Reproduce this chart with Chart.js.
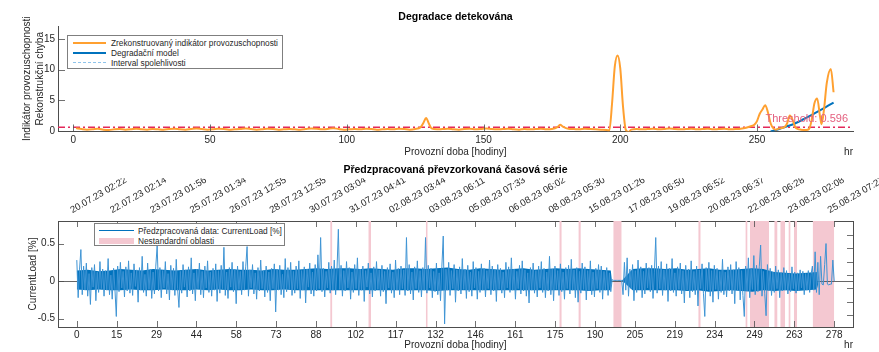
<!DOCTYPE html>
<html>
<head>
<meta charset="utf-8">
<script src="https://cdn.jsdelivr.net/npm/chart.js@4.4.1/dist/chart.umd.min.js"></script>
<style>
  body { margin: 0; width: 879px; height: 352px; background: #fff; position: relative; overflow: hidden;
         font-family: 'Liberation Sans', Arial, sans-serif; color: #262626; }
  .pane { position: absolute; left: 0; width: 879px; }
  .legend { position: absolute; background: #fff; border: 1px solid #7f7f7f; box-sizing: border-box; font-size: 8.3px; }
  .legend .row { position: absolute; left: 0; height: 10px; line-height: 10px; white-space: nowrap; }
  .legend .swatch { position: absolute; top: 4px; }
  .legend .text { position: absolute; left: 43px; top: 0; }
</style>
</head>
<body>
<div class="pane" style="top:0;height:160px"><canvas id="hiChart"></canvas></div>
<div class="pane" style="top:160px;height:192px"><canvas id="loadChart"></canvas></div>

<div class="legend" style="left:67px;top:35px;width:216px;height:34px">
  <div class="row" style="top:2px"><span class="swatch" style="left:5px;width:33px;border-top:2px solid #FFA030"></span><span class="text">Zrekonstruovaný indikátor provozuschopnosti</span></div>
  <div class="row" style="top:12px"><span class="swatch" style="left:5px;width:33px;border-top:2.5px solid #0072BD"></span><span class="text">Degradační model</span></div>
  <div class="row" style="top:21.5px"><span class="swatch" style="left:5px;width:33px;border-top:1px dashed #8EC3EA"></span><span class="text">Interval spolehlivosti</span></div>
</div>

<div class="legend" style="left:94px;top:223px;width:191px;height:23px">
  <div class="row" style="top:1.5px"><span class="swatch" style="left:4px;width:35px;border-top:1px solid #0072BD"></span><span class="text">Předzpracovaná data: CurrentLoad [%]</span></div>
  <div class="row" style="top:11.5px"><span class="swatch" style="left:4px;top:2px;width:35px;height:6px;background:#F4C8D1"></span><span class="text">Nestandardní oblasti</span></div>
</div>

<script>
// --- health indicator (top panel) ---
const hiHours = [
  1, 3, 5, 7, 9, 11, 13, 15, 17, 19,
  21, 23, 25, 27, 29, 31, 33, 35, 37, 39,
  41, 43, 45, 47, 49, 51, 53, 55, 57, 59,
  61, 63, 65, 67, 69, 71, 73, 75, 77, 79,
  81, 83, 85, 87, 89, 91, 93, 95, 97, 99,
  101, 103, 105, 107, 109, 111, 113, 115, 117, 119,
  121, 123, 125, 127, 128, 129, 130, 131, 133, 135,
  137, 139, 141, 143, 145, 147, 149, 151, 153, 155,
  157, 159, 161, 163, 165, 167, 169, 171, 173, 175,
  177, 178, 179, 181, 183, 185, 187, 189, 191, 193,
  195, 196, 197, 198, 199, 200, 201, 202, 203, 204,
  206, 208, 210, 212, 214, 216, 218, 220, 222, 224,
  226, 228, 230, 232, 234, 236, 238, 240, 242, 244,
  246, 248, 249, 250, 251, 252, 253, 254, 255, 256,
  257, 258, 260, 261, 262, 263, 264, 265, 266, 268,
  269, 270, 271, 272, 273, 273.6, 274.5, 275.5, 277, 278
];
const hiValues = [
  0.45, 0.3, 0.2, 0.25, 0.35, 0.2, 0.15, 0.25, 0.3, 0.2,
  0.25, 0.35, 0.25, 0.2, 0.3, 0.25, 0.2, 0.3, 0.35, 0.25,
  0.2, 0.3, 0.4, 0.3, 0.2, 0.25, 0.35, 0.3, 0.2, 0.25,
  0.3, 0.4, 0.3, 0.2, 0.25, 0.35, 0.3, 0.2, 0.25, 0.3,
  0.25, 0.2, 0.3, 0.4, 0.35, 0.25, 0.3, 0.45, 0.3, 0.2,
  0.25, 0.3, 0.25, 0.35, 0.3, 0.2, 0.25, 0.3, 0.25, 0.35,
  0.3, 0.2, 0.3, 0.6, 1.3, 2.1, 1.2, 0.4, 0.25, 0.3,
  0.35, 0.25, 0.2, 0.3, 0.35, 0.25, 0.3, 0.4, 0.3, 0.25,
  0.3, 0.35, 0.25, 0.2, 0.3, 0.25, 0.3, 0.35, 0.25, 0.3,
  0.6, 1.0, 0.7, 0.35, 0.3, 0.25, 0.35, 0.3, 0.25, 0.2,
  0.15, 0.05, 4.5, 10.5, 12.3, 10.2, 4.0, 0.2, -0.2, 0.2,
  0.3, 0.25, 0.3, 0.35, 0.25, 0.3, 0.4, 0.3, 0.25, 0.3,
  0.35, 0.25, 0.3, 0.35, 0.25, 0.3, 0.35, 0.25, 0.3, 0.35,
  0.5, 0.8, 1.0, 1.6, 2.8, 3.5, 4.2, 3.0, 1.2, 0.4,
  0.2, 0.4, 0.6, 1.2, 2.5, 1.8, 0.6, 0.3, 0.2, 0.15,
  0.3, 1.8, 4.5, 5.3, 2.5, 1.1, 3.5, 7.8, 10.1, 6.3
];
const modelHours = [255, 257, 259, 261, 263, 265, 267, 269, 271, 273, 275, 277, 278];
const modelValues = [-0.1, 0.15, 0.45, 0.75, 1.05, 1.45, 1.9, 2.35, 2.85, 3.35, 3.85, 4.35, 4.6];
const threshold = 0.596;
const hiHourTicks = [0, 50, 100, 150, 200, 250];
const hiValueTicks = [0, 5, 10, 15];

// --- resampled CurrentLoad series (bottom panel), one sample every half hour ---
const lastHour = 278;
const loadStep = 0.5;
const currentLoad = [
  0.28, -0.22, 0.15, 0.42, -0.18, 0.2, -0.12, 0.24, -0.2, 0.1, -0.31, 0.18, -0.08, 0.22, -0.26, 0.12, -0.15, 0.26, -0.1, 0.16,
  -0.2, 0.14, -0.12, 0.3, -0.18, 0.08, -0.24, 0.17, -0.11, -0.47, 0.2, -0.14, 0.25, -0.09, 0.13, -0.21, 0.19, -0.13, 0.27, -0.16,
  0.11, -0.19, 0.23, -0.07, 0.15, -0.28, 0.18, -0.12, 0.33, -0.15, 0.09, -0.2, 0.24, -0.11, 0.16, -0.23, 0.12, -0.17, 0.2, 0.47,
  -0.13, 0.18, -0.22, 0.14, -0.09, 0.26, -0.17, 0.1, -0.25, 0.21, -0.12, 0.17, -0.19, 0.29, -0.1, -0.35, 0.13, -0.16, 0.22, -0.08,
  0.15, -0.21, 0.19, -0.13, 0.31, -0.17, 0.11, -0.26, 0.16, -0.1, 0.24, -0.18, 0.13, -0.22, 0.2, -0.09, 0.27, -0.15, 0.12, -0.2,
  0.17, -0.12, 0.23, -0.27, 0.14, -0.16, 0.21, -0.1, 0.45, -0.19, 0.12, -0.23, 0.18, -0.08, 0.25, -0.14, 0.16, -0.3, 0.2, -0.11,
  0.13, -0.18, 0.26, -0.12, 0.19, 0.46, -0.2, 0.15, -0.09, 0.22, -0.17, 0.11, -0.24, 0.18, -0.13, 0.28, -0.1, 0.14, -0.21, 0.2,
  -0.15, 0.12, -0.26, 0.17, -0.1, 0.23, -0.41, 0.16, -0.12, 0.21, -0.18, 0.09, -0.22, 0.3, -0.14, 0.18, -0.11, 0.25, -0.19, 0.13,
  -0.16, 0.2, -0.1, 0.27, -0.23, 0.14, -0.12, 0.19, -0.29, 0.16, -0.08, 0.24, -0.17, 0.12, -0.2, 0.22, -0.13, 0.35, -0.1, 0.58,
  -0.14, 0.17, -0.21, 0.13, -0.09, 0.25, -0.16, 0.2, -0.12, 0.28, -0.18, 0.15, 0.69, -0.11, 0.21, -0.2, 0.14, -0.13, 0.26, -0.09,
  0.18, -0.24, 0.12, -0.15, 0.22, -0.1, 0.31, -0.19, 0.16, -0.12, 0.2, -0.27, 0.14, -0.08, 0.24, -0.17, 0.11, -0.21, 0.19, -0.13,
  0.26, -0.11, 0.15, -0.2, 0.21, -0.14, 0.13, -0.3, 0.18, -0.09, 0.23, -0.16, 0.12, -0.22, 0.28, -0.12, 0.17, -0.18, 0.2, -0.1,
  0.15, -0.19, 0.58, -0.13, 0.22, -0.17, 0.12, -0.25, 0.19, -0.1, 0.27, -0.15, 0.14, -0.21, 0.18, -0.12, 0.58, -0.16, 0.21, -0.09,
  0.17, -0.22, 0.13, -0.14, 0.24, -0.18, 0.11, -0.26, 0.2, 0.6, -0.57, 0.16, -0.12, 0.25, -0.19, 0.14, -0.1, 0.22, -0.28, 0.15,
  -0.13, 0.19, -0.17, 0.3, -0.11, 0.16, -0.23, 0.21, -0.14, 0.12, -0.2, 0.26, -0.09, 0.18, -0.24, 0.13, -0.15, 0.23, -0.12, 0.17,
  -0.21, 0.14, -0.1, 0.28, -0.18, 0.2, -0.13, 0.15, -0.27, 0.22, -0.11, 0.17, -0.16, 0.12, -0.22, 0.25, -0.09, 0.19, -0.15, 0.31,
  -0.12, 0.16, -0.24, 0.13, -0.1, 0.21, -0.17, 0.27, -0.13, 0.15, -0.2, 0.11, -0.29, 0.18, -0.12, 0.24, -0.16, 0.14, -0.21, 0.2,
  -0.09, 0.26, -0.15, 0.17, -0.22, 0.12, -0.13, 0.33, -0.18, 0.16, -0.26, 0.2, -0.11, 0.14, -0.19, 0.23, -0.14, 0.12, -0.24, 0.18,
  -0.1, 0.21, -0.17, 0.29, -0.12, 0.15, -0.22, 0.18, -0.28, 0.13, -0.16, 0.24, -0.11, 0.19, -0.25, 0.14, -0.13, 0.27, -0.18, 0.12,
  -0.21, 0.17, -0.1, 0.22, -0.15, 0.2, -0.24, 0.13, -0.12, 0.18, -0.19, 0.11, -0.14, 0.02, 0.01, 0.01, 0.01, 0.01, 0.01, 0.01,
  0.01, -0.18, 0.25, -0.12, 0.31, -0.2, 0.16, -0.1, 0.22, -0.26, 0.14, -0.15, 0.28, -0.11, 0.19, -0.22, 0.13, -0.17, 0.24, -0.09,
  0.18, -0.14, 0.21, -0.23, 0.12, 0.58, -0.16, 0.2, -0.1, 0.26, -0.19, 0.15, -0.12, 0.23, -0.27, 0.17, -0.13, 0.3, -0.15, 0.11,
  -0.2, 0.19, -0.11, 0.24, -0.17, 0.14, -0.29, 0.21, -0.12, 0.16, -0.22, 0.27, -0.14, 0.13, -0.18, 0.2, -0.33, 0.15, -0.1, 0.23,
  -0.16, -0.47, 0.18, -0.12, 0.25, -0.2, 0.14, -0.28, 0.21, -0.11, 0.17, -0.24, 0.13, -0.15, 0.29, -0.18, 0.12, -0.21, 0.19, -0.13,
  0.22, -0.17, 0.15, -0.3, 0.26, -0.12, 0.18, -0.25, 0.14, -0.19, -0.47, 0.2, -0.13, 0.31, -0.22, 0.16, -0.11, 0.34, -0.18, 0.21,
  -0.14, 0.19, 0.48, -0.2, 0.13, -0.16, -0.46, 0.22, -0.12, 0.17, -0.19, 0.12, -0.15, 0.2, -0.1, 0.15, -0.22, 0.11, -0.13, 0.18,
  -0.12, 0.14, -0.17, 0.1, -0.14, 0.19, -0.1, 0.12, -0.16, 0.11, -0.13, 0.15, -0.09, 0.13, -0.18, 0.1, -0.12, 0.14, -0.15, 0.09,
  0.2, -0.12, 0.39, -0.15, 0.25, -0.18, 0.33, -0.04, -0.05, 0.22, 0.5, -0.04, -0.05, -0.04, -0.04, 0.28, 0.0
];
// dense core of the trace: upper / lower edge of the band the samples fill
const bandHours = [
  0, 4, 8, 12, 16, 20, 24, 28, 32, 36, 40, 44, 48, 52, 56, 60, 64, 68, 72, 76,
  80, 84, 88, 92, 96, 100, 104, 108, 112, 116, 120, 124, 128, 132, 136, 140, 144, 148, 152, 156,
  160, 164, 168, 172, 176, 180, 184, 188, 192, 196, 196.4, 200.1,
  204, 208, 212, 216, 220, 224, 228, 232, 236, 240, 244, 248, 252, 256, 260, 264, 268,
  271.6, 272.1, 278
];
const bandUpper = [
  0.14, 0.15, 0.13, 0.14, 0.16, 0.15, 0.14, 0.16, 0.15, 0.14, 0.15, 0.16, 0.14, 0.15, 0.16, 0.15, 0.15, 0.14, 0.16, 0.15,
  0.15, 0.16, 0.17, 0.16, 0.17, 0.17, 0.16, 0.17, 0.16, 0.15, 0.17, 0.17, 0.16, 0.17, 0.18, 0.16, 0.15, 0.17, 0.16, 0.15,
  0.16, 0.17, 0.15, 0.16, 0.17, 0.16, 0.17, 0.16, 0.15, 0.14, 0.01, 0.01,
  0.16, 0.17, 0.17, 0.16, 0.17, 0.15, 0.16, 0.17, 0.15, 0.15, 0.16, 0.17, 0.16, 0.12, 0.11, 0.1, 0.11,
  0.12, -0.04, -0.04
];
const bandLower = [
  -0.11, -0.12, -0.11, -0.12, -0.12, -0.11, -0.12, -0.12, -0.11, -0.12, -0.12, -0.11, -0.12, -0.11, -0.12, -0.12, -0.11, -0.12, -0.12, -0.11,
  -0.12, -0.12, -0.12, -0.12, -0.12, -0.12, -0.12, -0.12, -0.12, -0.12, -0.12, -0.12, -0.12, -0.13, -0.12, -0.12, -0.12, -0.12, -0.12, -0.12,
  -0.12, -0.12, -0.12, -0.12, -0.12, -0.12, -0.12, -0.13, -0.12, -0.12, 0.01, 0.01,
  -0.12, -0.12, -0.12, -0.12, -0.12, -0.13, -0.12, -0.14, -0.13, -0.12, -0.13, -0.14, -0.12, -0.13, -0.12, -0.13, -0.12,
  -0.11, -0.04, -0.04
];
// [start hour, end hour] of every flagged interval
const abnormalRegions = [
  [93, 93.8], [107, 108], [128.1, 128.8], [177.1, 178], [184.1, 185], [196.9, 200], [228.1, 229],
  [245.4, 246.2], [247.1, 254.1], [256, 257.2], [258.2, 260], [261.2, 262], [263.2, 264.4], [270.1, 278]
];
const hourTickLabels = ['0', '15', '29', '44', '58', '73', '88', '102', '117', '132',
  '146', '161', '175', '190', '205', '219', '234', '249', '263', '278'];
const dateTickLabels = ['20.07.23 02:22', '22.07.23 02:14', '23.07.23 01:56', '25.07.23 01:34', '26.07.23 12:55',
  '28.07.23 12:55', '30.07.23 03:04', '31.07.23 04:41', '02.08.23 03:44', '03.08.23 06:11',
  '05.08.23 07:33', '06.08.23 06:02', '08.08.23 05:30', '15.08.23 01:26', '17.08.23 06:50',
  '19.08.23 06:52', '20.08.23 06:37', '22.08.23 06:28', '23.08.23 02:08', '25.08.23 07:27'];
const loadValueTicks = [-0.5, 0, 0.5];
const rightAxisTicks = [1, 2, 3, 4, 5, 6, 7];

const axisColor = '#4d4d4d';
const textColor = '#262626';
const fontFamily = "'Liberation Sans', Arial, sans-serif";
Chart.defaults.font.family = fontFamily;
Chart.defaults.color = textColor;
Chart.defaults.animation = false;

// pin an axis box to a fixed size so both panels line up
function pinSize(size, vertical) {
  return scale => {
    if (vertical) scale.width = size; else scale.height = size;
    scale.paddingLeft = scale.paddingRight = scale.paddingTop = scale.paddingBottom = 0;
  };
}
function fixedTicks(values) {
  return scale => { scale.ticks = values.map(v => ({ value: v })); };
}

// MATLAB style tick marks pointing into the plot area
const inwardTicks = {
  id: 'inwardTicks',
  afterDraw(chart, args, opts) {
    const { ctx, chartArea: a } = chart;
    const len = opts.length || 6;
    ctx.save();
    ctx.strokeStyle = axisColor;
    ctx.lineWidth = 0.8;
    Object.values(chart.scales).forEach(scale => {
      scale.ticks.forEach(t => {
        const p = Math.round(scale.getPixelForValue(t.value)) + 0.5;
        ctx.beginPath();
        if (scale.position === 'bottom') { ctx.moveTo(p, a.bottom); ctx.lineTo(p, a.bottom - len); }
        else if (scale.position === 'top') { ctx.moveTo(p, a.top); ctx.lineTo(p, a.top + len); }
        else if (scale.position === 'left') { ctx.moveTo(a.left, p); ctx.lineTo(a.left + len, p); }
        else { ctx.moveTo(a.right, p); ctx.lineTo(a.right - len, p); }
        ctx.stroke();
      });
    });
    ctx.restore();
  }
};

// duration unit under the right end of the x axis, threshold caption
const axisNotes = {
  id: 'axisNotes',
  afterDraw(chart, args, opts) {
    const { ctx, chartArea: a } = chart;
    ctx.save();
    ctx.font = '10px ' + fontFamily;
    ctx.fillStyle = textColor;
    ctx.textAlign = 'right';
    ctx.textBaseline = 'middle';
    ctx.fillText('hr', a.right, chart.height - opts.unitOffset);
    if (opts.threshold !== undefined) {
      const y = chart.scales.y.getPixelForValue(opts.threshold);
      ctx.font = '11px ' + fontFamily;
      ctx.fillStyle = '#E4607F';
      ctx.textBaseline = 'bottom';
      ctx.fillText('Threshold: ' + opts.threshold, a.right - 5, y - 3);
    }
    ctx.restore();
  }
};

// zero reference line, drawn right after the shaded intervals so the data covers it
const zeroLine = {
  id: 'zeroLine',
  afterDatasetDraw(chart, args, opts) {
    if (args.index !== opts.after) return;
    const { ctx, chartArea: a } = chart;
    const y = Math.round(chart.scales.y.getPixelForValue(0)) + 0.5;
    ctx.save();
    ctx.strokeStyle = '#404040';
    ctx.lineWidth = 0.8;
    ctx.beginPath();
    ctx.moveTo(a.left, y);
    ctx.lineTo(a.right, y);
    ctx.stroke();
    ctx.restore();
  }
};

const tickFont = { size: 10 };
const axisTitleFont = { size: 10, lineHeight: 1.3 };

// ---------- top panel ----------
const hiRange = [-5.6, 285.1];
new Chart(document.getElementById('hiChart'), {
  type: 'line',
  data: {
    datasets: [
      {
        label: 'Zrekonstruovaný indikátor provozuschopnosti',
        data: hiHours.map((h, i) => ({ x: h, y: hiValues[i] })),
        borderColor: '#FFA030', borderWidth: 2, pointRadius: 0, cubicInterpolationMode: 'monotone'
      },
      {
        label: 'Degradační model',
        data: modelHours.map((h, i) => ({ x: h, y: modelValues[i] })),
        borderColor: '#0072BD', borderWidth: 2, pointRadius: 0, tension: 0.3
      },
      {
        label: 'Interval spolehlivosti',
        data: [],
        borderColor: '#8EC3EA', borderWidth: 1, borderDash: [6, 4], pointRadius: 0
      },
      {
        label: 'Threshold',
        data: hiRange.map(h => ({ x: h, y: threshold })),
        borderColor: '#E3285A', borderWidth: 1.5, borderDash: [7, 3, 2, 3], pointRadius: 0
      }
    ]
  },
  options: {
    responsive: true,
    maintainAspectRatio: false,
    layout: { padding: { left: 0, right: 26, top: 0, bottom: 0 } },
    events: [],
    plugins: {
      legend: { display: false },
      tooltip: { enabled: false },
      title: {
        display: true, text: 'Degradace detekována', fullSize: false, color: '#000',
        font: { size: 10.5, weight: 'bold' }, padding: { top: 10.4, bottom: 3 }
      },
      inwardTicks: { length: 7 },
      axisNotes: { unitOffset: 8, threshold: threshold }
    },
    scales: {
      x: {
        type: 'linear', min: hiRange[0], max: hiRange[1],
        afterBuildTicks: fixedTicks(hiHourTicks),
        afterFit: pinSize(28.5, false),
        grid: { display: false, drawTicks: false },
        border: { display: true, color: axisColor, width: 1 },
        ticks: { font: tickFont, padding: 3, autoSkip: false, maxRotation: 0 },
        title: { display: true, text: 'Provozní doba [hodiny]', font: axisTitleFont, padding: { top: 0, bottom: 1.5 } }
      },
      y: {
        min: -0.1, max: 17.1,
        afterBuildTicks: fixedTicks(hiValueTicks),
        afterFit: pinSize(58, true),
        grid: { display: false, drawTicks: false },
        border: { display: true, color: axisColor, width: 1 },
        ticks: { font: tickFont, padding: 3 },
        title: {
          display: true, text: ['Indikátor provozuschopnosti', 'Rekonstrukční chyba'],
          font: axisTitleFont, padding: { top: 20.5, bottom: 0 }
        }
      }
    }
  },
  plugins: [inwardTicks, axisNotes]
});

// ---------- bottom panel ----------
const loadRange = [-6.9, 284.9];
const loadYRange = [-0.61, 0.8];
const hourTickValues = hourTickLabels.map((_, i) => i * lastHour / (hourTickLabels.length - 1));
const regionPoints = abnormalRegions.flatMap(([a, b]) => [
  { x: a, y: loadYRange[1] }, { x: b, y: loadYRange[1] }, { x: b, y: null }
]);

new Chart(document.getElementById('loadChart'), {
  type: 'line',
  data: {
    datasets: [
      {
        label: 'Předzpracovaná data: CurrentLoad [%]',
        data: currentLoad.map((v, i) => ({ x: i * loadStep, y: v })),
        borderColor: '#3F94D4', borderWidth: 1, pointRadius: 0, tension: 0, order: 0
      },
      {
        label: 'band upper',
        data: bandHours.map((h, i) => ({ x: h, y: bandUpper[i] })),
        borderWidth: 0, borderColor: 'rgba(0,0,0,0)', backgroundColor: '#0072BD',
        fill: '+1', pointRadius: 0, tension: 0, order: 1
      },
      {
        label: 'band lower',
        data: bandHours.map((h, i) => ({ x: h, y: bandLower[i] })),
        borderWidth: 0, borderColor: 'rgba(0,0,0,0)', fill: false, pointRadius: 0, tension: 0, order: 2
      },
      {
        label: 'Nestandardní oblasti',
        data: regionPoints,
        borderWidth: 0, borderColor: 'rgba(0,0,0,0)', backgroundColor: '#F4C8D1',
        fill: 'start', spanGaps: false, pointRadius: 0, order: 3
      }
    ]
  },
  options: {
    responsive: true,
    maintainAspectRatio: false,
    layout: { padding: { left: 0, right: 26, top: 0, bottom: 0 } },
    events: [],
    plugins: {
      legend: { display: false },
      tooltip: { enabled: false },
      title: {
        display: true, text: 'Předzpracovaná převzorkovaná časová série', fullSize: false, color: '#000',
        font: { size: 10.5, weight: 'bold' }, padding: { top: 3.7, bottom: 2 }
      },
      inwardTicks: { length: 6 },
      axisNotes: { unitOffset: 7 },
      zeroLine: { after: 3 }
    },
    scales: {
      x: {
        type: 'linear', position: 'bottom', min: loadRange[0], max: loadRange[1],
        afterBuildTicks: fixedTicks(hourTickValues),
        afterFit: pinSize(25, false),
        grid: { display: false, drawTicks: false },
        border: { display: true, color: axisColor, width: 1 },
        ticks: { font: tickFont, padding: 2.5, autoSkip: false, maxRotation: 0,
                 callback: (v, i) => hourTickLabels[i] },
        title: { display: true, text: 'Provozní doba [hodiny]', font: { size: 10, lineHeight: 1.2 }, padding: { top: 0, bottom: 1 } }
      },
      x2: {
        type: 'linear', position: 'top', min: loadRange[0], max: loadRange[1],
        afterBuildTicks: fixedTicks(hourTickValues),
        afterFit: pinSize(42.7, false),
        grid: { display: false, drawTicks: false },
        border: { display: true, color: axisColor, width: 1 },
        ticks: { font: { size: 9.5 }, padding: 5, autoSkip: false, minRotation: 30, maxRotation: 30,
                 callback: (v, i) => dateTickLabels[i] }
      },
      y: {
        min: loadYRange[0], max: loadYRange[1],
        afterBuildTicks: fixedTicks(loadValueTicks),
        afterFit: pinSize(58, true),
        grid: { display: false, drawTicks: false },
        border: { display: true, color: axisColor, width: 1 },
        ticks: { font: tickFont, padding: 3, callback: v => String(v) },
        title: { display: true, text: 'CurrentLoad [%]', font: axisTitleFont, padding: { top: 26.5, bottom: 0 } }
      },
      y2: {
        position: 'right', min: 0.1, max: 8.05,
        afterBuildTicks: fixedTicks(rightAxisTicks),
        afterFit: pinSize(0, true),
        grid: { display: false, drawTicks: false },
        border: { display: true, color: axisColor, width: 1 },
        ticks: { display: false }
      }
    }
  },
  plugins: [zeroLine, inwardTicks, axisNotes]
});
</script>
</body>
</html>
